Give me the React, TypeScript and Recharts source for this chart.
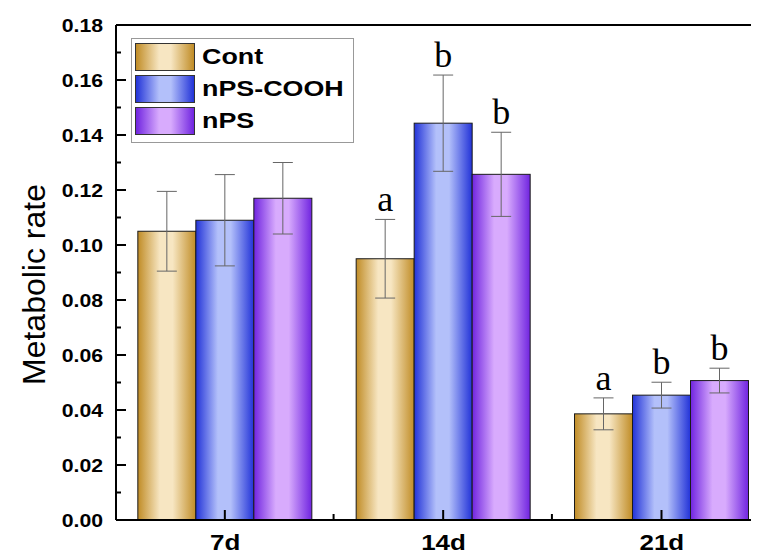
import React from 'react';
import {
  BarChart,
  Bar,
  XAxis,
  YAxis,
  ErrorBar,
  LabelList,
  Legend,
  ReferenceLine,
  Label,
} from 'recharts';

const categories = ['7d', '14d', '21d'];

const contValues = [0.105, 0.095, 0.0386];
const contErrors = [0.0145, 0.0143, 0.0058];
const contLetters = ['', 'a', 'a'];

const coohValues = [0.109, 0.1443, 0.0454];
const coohErrors = [0.0166, 0.0175, 0.0047];
const coohLetters = ['', 'b', 'b'];

const npsValues = [0.117, 0.1257, 0.0507];
const npsErrors = [0.013, 0.0153, 0.0045];
const npsLetters = ['', 'b', 'b'];

const yTicks = [0, 0.01, 0.02, 0.03, 0.04, 0.05, 0.06, 0.07, 0.08, 0.09, 0.1, 0.11, 0.12, 0.13, 0.14, 0.15, 0.16, 0.17, 0.18];
const yTickLabels = ['0.00', '', '0.02', '', '0.04', '', '0.06', '', '0.08', '', '0.10', '', '0.12', '', '0.14', '', '0.16', '', '0.18'];

const series = [
  { key: 'cont', name: 'Cont', edge: '#c08c26', light: '#f7e6c2' },
  { key: 'cooh', name: 'nPS-COOH', edge: '#2233d8', light: '#b3c0fa' },
  { key: 'nps', name: 'nPS', edge: '#7024e0', light: '#d8abfd' },
];

const data = categories.map((name, i) => ({
  name,
  cont: contValues[i],
  contErr: contErrors[i],
  contSig: contLetters[i],
  cooh: coohValues[i],
  coohErr: coohErrors[i],
  coohSig: coohLetters[i],
  nps: npsValues[i],
  npsErr: npsErrors[i],
  npsSig: npsLetters[i],
}));

const SANS = 'Arial, "Liberation Sans", sans-serif';
const CATEGORY_GAP = 0.1; // barCategoryGap as a fraction of the band

// letter above the error bar: pixel size of the error comes from the bar's own height/value
const sigLabel = (key: string) => (props: any) => {
  const vb = props.viewBox ?? props;
  const { x, y, width, height } = vb;
  const value = props.value;
  if (!value) return null;
  const d: any = data[props.index];
  const errPx = (d[key + 'Err'] * height) / d[key];
  return (
    <text
      x={x + width / 2}
      y={y - errPx - 8}
      textAnchor="middle"
      fontFamily='"Liberation Serif", "Times New Roman", serif'
      fontSize={36}
      fill="#000"
    >
      {value}
    </text>
  );
};

// bar shape; the middle series also draws the category tick, the last one the tick between groups
const barShape = (seriesIndex: number) => (props: any) => {
  const { x, y, width, height, fill, index } = props;
  const bottom = y + height;
  const gap = ((series.length * width) / (1 - 2 * CATEGORY_GAP)) * CATEGORY_GAP;
  return (
    <g>
      <rect x={x} y={y} width={width} height={height} fill={fill} stroke="#1a1a1a" strokeWidth={1} />
      {seriesIndex === 1 && (
        <line x1={x + width / 2} y1={bottom} x2={x + width / 2} y2={bottom - 10} stroke="#000" strokeWidth={2} />
      )}
      {seriesIndex === series.length - 1 && index < categories.length - 1 && (
        <line x1={x + width + gap} y1={bottom} x2={x + width + gap} y2={bottom - 6} stroke="#000" strokeWidth={2} />
      )}
    </g>
  );
};

const YTick = (props: any) => {
  const { x, y, index } = props;
  const label = yTickLabels[index];
  const major = label !== '';
  return (
    <g>
      <line x1={x} y1={y} x2={x + (major ? 10 : 5)} y2={y} stroke="#000" strokeWidth={2} />
      {major && (
        <text
          transform={`translate(${x - 13},${y}) scale(1.18,1)`}
          textAnchor="end"
          dy={6.5}
          fontFamily={SANS}
          fontWeight="bold"
          fontSize={18}
          fill="#000"
        >
          {label}
        </text>
      )}
    </g>
  );
};

const XTick = (props: any) => {
  const { x, y, payload } = props;
  return (
    <text
      transform={`translate(${x},${y + 30}) scale(1.18,1)`}
      textAnchor="middle"
      fontFamily={SANS}
      fontWeight="bold"
      fontSize={22}
      fill="#000"
    >
      {payload.value}
    </text>
  );
};

const LegendBox = () => (
  <div
    style={{
      border: '1px solid #999',
      background: '#fff',
      padding: '4px 4px 3px 3px',
      width: 214,
    }}
  >
    {series.map((s) => (
      <div key={s.key} style={{ display: 'flex', alignItems: 'center', height: 28, marginBottom: 4 }}>
        <div
          style={{
            width: 58,
            height: 26,
            border: '1px solid #333',
            background: `linear-gradient(to right, ${s.edge} 0%, ${s.light} 40%, ${s.light} 60%, ${s.edge} 100%)`,
          }}
        />
        <span
          style={{
            display: 'inline-block',
            marginLeft: 7,
            fontFamily: SANS,
            fontWeight: 'bold',
            fontSize: 22,
            lineHeight: '28px',
            color: '#000',
            transform: 'scaleX(1.22)',
            transformOrigin: 'left center',
            whiteSpace: 'nowrap',
          }}
        >
          {s.name}
        </span>
      </div>
    ))}
  </div>
);

export default function App() {
  return (
    <div style={{ width: 751, height: 543, overflow: 'hidden', background: '#fff', position: 'relative' }}>
      <BarChart
        width={790}
        height={560}
        data={data}
        margin={{ top: 17, right: 27, left: 8, bottom: 8 }}
        barCategoryGap={`${CATEGORY_GAP * 100}%`}
        barGap={0}
      >
        <defs>
          {series.map((s) => (
            <linearGradient key={s.key} id={`grad-${s.key}`} x1="0" y1="0" x2="1" y2="0">
              <stop offset="0%" stopColor={s.edge} />
              <stop offset="38%" stopColor={s.light} />
              <stop offset="60%" stopColor={s.light} />
              <stop offset="100%" stopColor={s.edge} />
            </linearGradient>
          ))}
        </defs>
        <XAxis
          dataKey="name"
          height={40}
          tickSize={0}
          tickMargin={0}
          tickLine={false}
          axisLine={{ stroke: '#000', strokeWidth: 2 }}
          tick={<XTick />}
          interval={0}
        />
        <YAxis
          width={100}
          domain={[0, 0.18]}
          ticks={yTicks}
          interval={0}
          allowDataOverflow
          tickSize={0}
          tickMargin={0}
          tickLine={false}
          axisLine={{ stroke: '#000', strokeWidth: 2 }}
          tick={<YTick />}
        >
          <Label
            content={(p: any) => {
              const vb = p.viewBox;
              const cx = vb.x + 29;
              const cy = vb.y + vb.height / 2 + 12;
              return (
                <text
                  x={cx}
                  y={cy}
                  transform={`rotate(-90, ${cx}, ${cy})`}
                  textAnchor="middle"
                  fontFamily={SANS}
                  fontSize={32}
                  fill="#000"
                >
                  Metabolic rate
                </text>
              );
            }}
          />
        </YAxis>
        {series.map((s, si) => (
          <Bar
            key={s.key}
            dataKey={s.key}
            name={s.name}
            fill={`url(#grad-${s.key})`}
            shape={barShape(si)}
            isAnimationActive={false}
          >
            <ErrorBar dataKey={`${s.key}Err`} width={10} stroke="#666" strokeWidth={1} direction="y" />
            <LabelList dataKey={`${s.key}Sig`} content={sigLabel(s.key)} />
          </Bar>
        ))}
        <ReferenceLine y={0.18} stroke="#000" strokeWidth={2} ifOverflow="visible" />
        <Legend
          layout="vertical"
          align="center"
          verticalAlign="middle"
          content={<LegendBox />}
          wrapperStyle={{ position: 'absolute', left: 123, top: 30, width: 'auto', height: 'auto' }}
        />
      </BarChart>
    </div>
  );
}
